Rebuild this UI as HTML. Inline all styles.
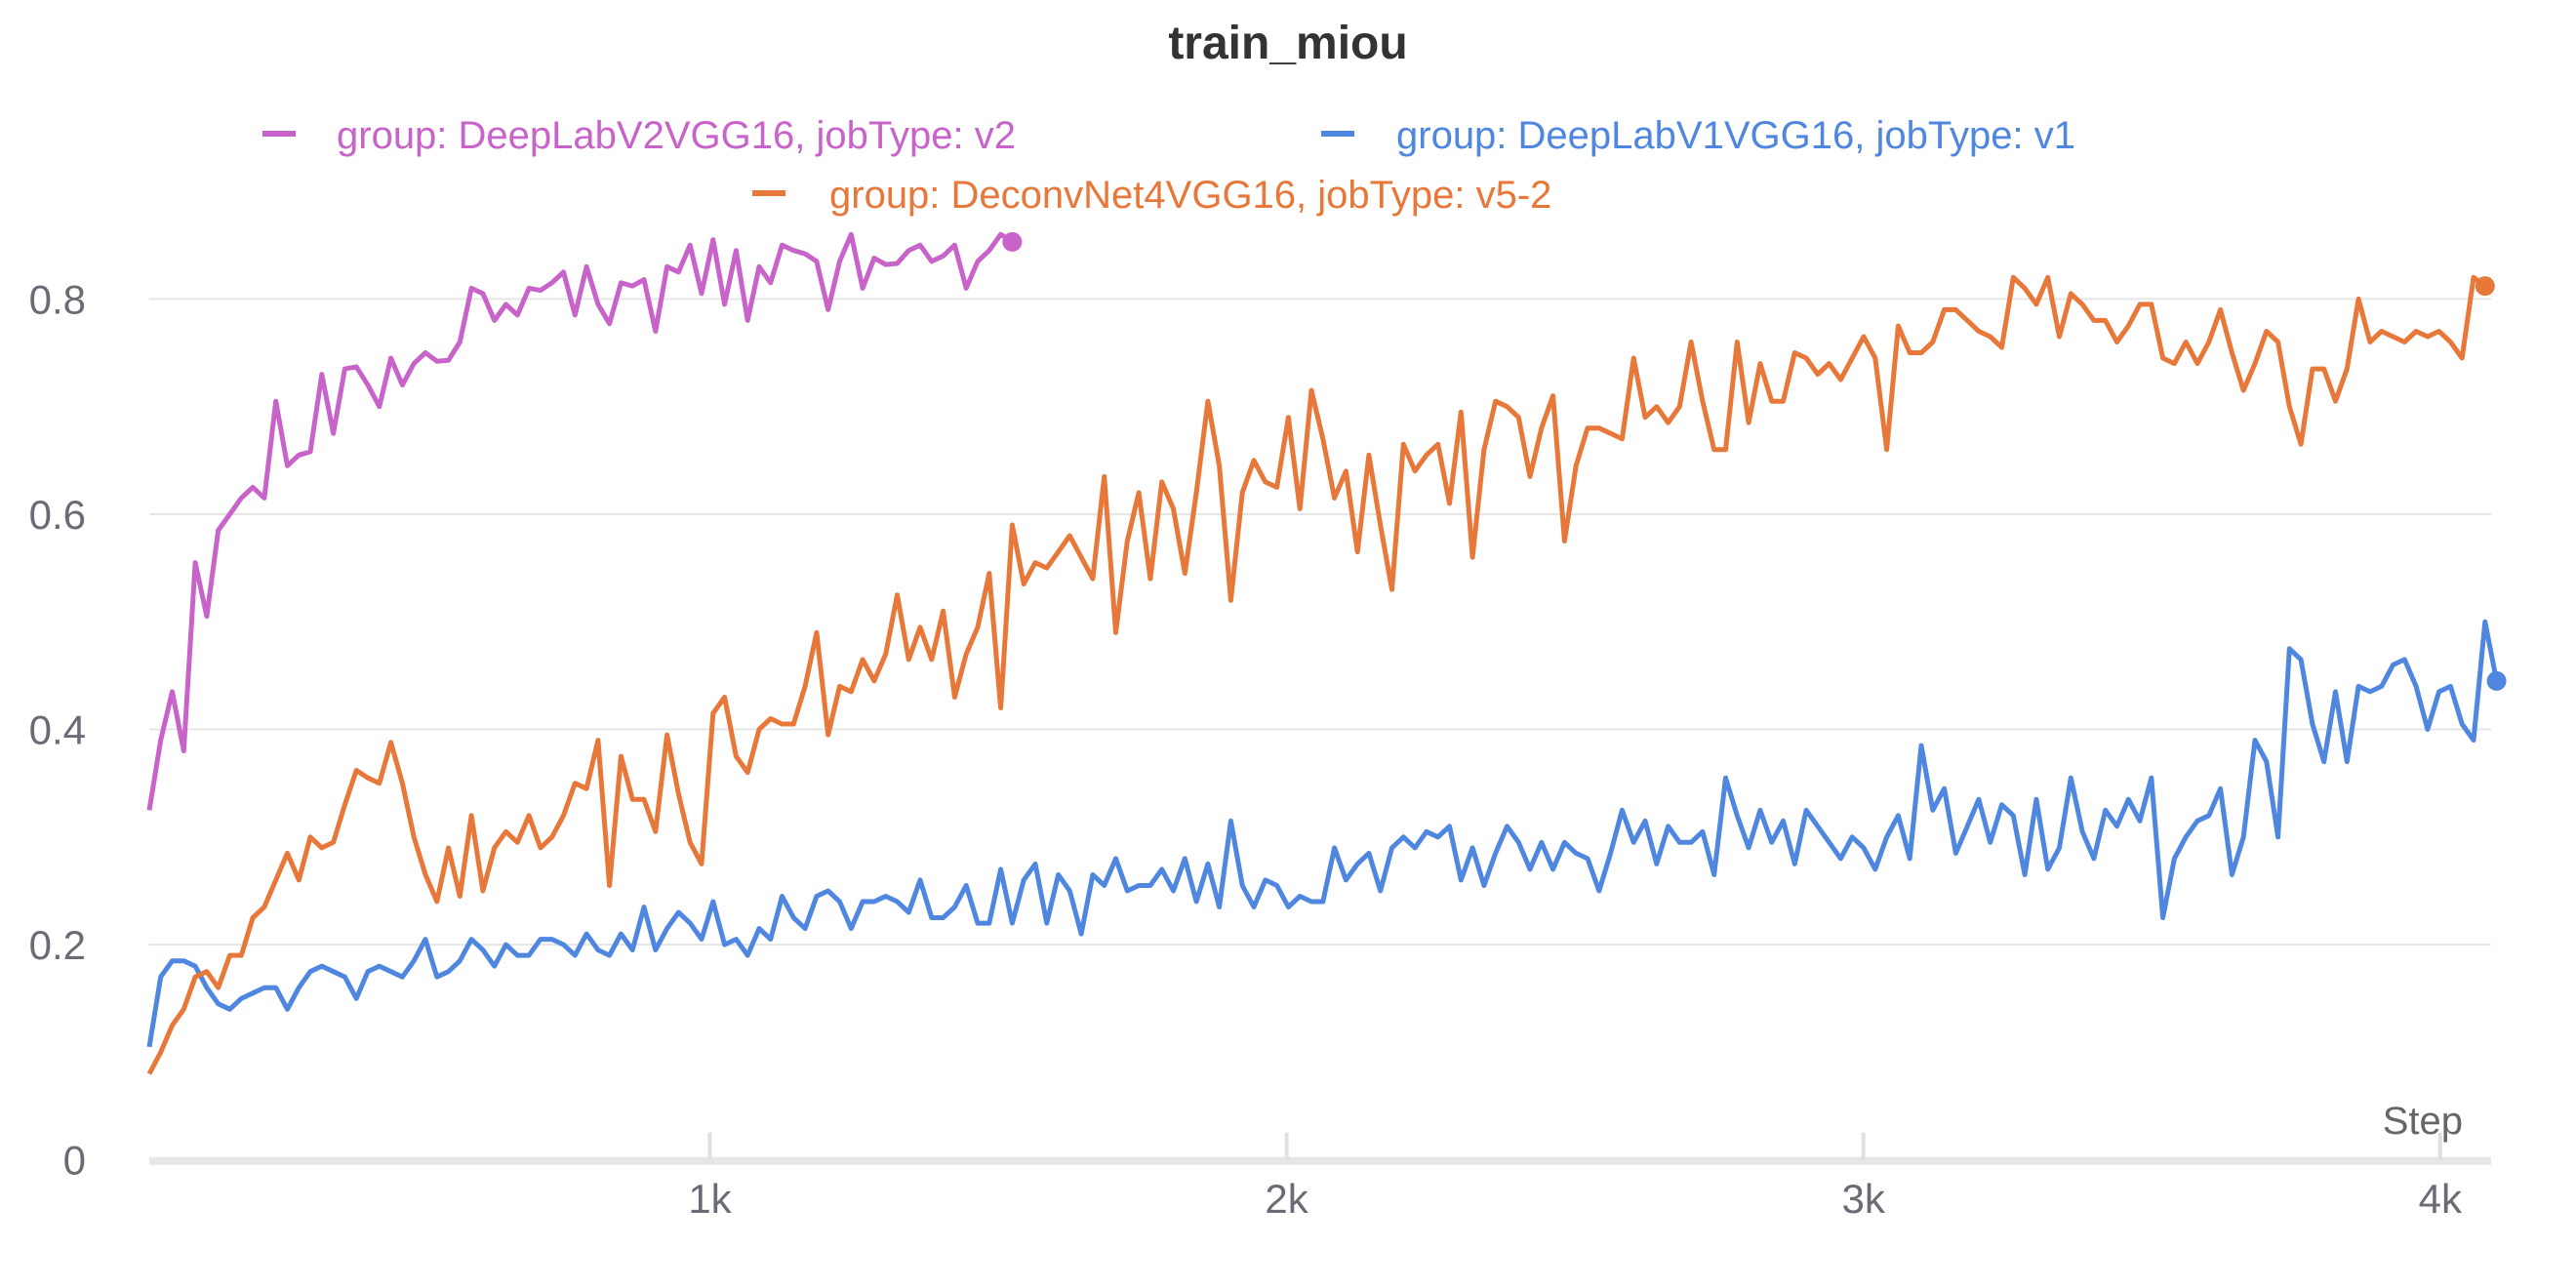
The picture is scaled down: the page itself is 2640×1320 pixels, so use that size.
<!DOCTYPE html>
<html><head><meta charset="utf-8"><style>
html,body{margin:0;padding:0;background:#fff}
svg{display:block;font-family:"Liberation Sans","DejaVu Sans",sans-serif}
</style></head><body>
<svg id="chart" width="2640" height="1320" viewBox="0 0 2640 1320" xmlns="http://www.w3.org/2000/svg">
<text x="1320" y="60" text-anchor="middle" font-size="48" font-weight="bold" fill="#333">train_miou</text>
<g font-size="40">
<g><rect x="269" y="134" width="34" height="6" fill="#c763c9"/><text x="345" y="152" fill="#c763c9">group: DeepLabV2VGG16, jobType: v2</text></g>
<g><rect x="1354" y="134" width="34" height="6" fill="#4e86e0"/><text x="1431" y="152" fill="#4e86e0">group: DeepLabV1VGG16, jobType: v1</text></g>
<g><rect x="771" y="195" width="34" height="6" fill="#e8773a"/><text x="850" y="213" fill="#e8773a">group: DeconvNet4VGG16, jobType: v5-2</text></g>
</g>
<g id="grid"></g>
<g id="series"></g>
<text x="2524" y="1162" text-anchor="end" font-size="40" fill="#666">Step</text>
</svg>
<script>
const yTicks=[0,0.2,0.4,0.6,0.8];
const yTickLabels=["0","0.2","0.4","0.6","0.8"];
const xTicks=[1000,2000,3000,4000];
const xTickLabels=["1k","2k","3k","4k"];
const stepStart=28, stepInterval=19.95;
const purpleVals=[.325,.39,.435,.38,.555,.505,.585,.60,.615,.625,.615,.705,.645,.655,.658,.73,.675,.735,.737,.72,.70,.745,.72,.74,.75,.742,.743,.76,.81,.805,.78,.795,.785,.81,.808,.815,.825,.785,.83,.795,.777,.815,.812,.818,.77,.83,.825,.85,.805,.855,.795,.845,.78,.83,.815,.85,.845,.842,.835,.79,.835,.86,.81,.838,.832,.833,.845,.85,.835,.84,.85,.81,.835,.845,.86,.853];
const orangeVals=[.08,.10,.125,.14,.17,.175,.16,.19,.19,.225,.235,.26,.285,.26,.30,.29,.295,.33,.362,.355,.35,.388,.35,.30,.265,.24,.29,.245,.32,.25,.29,.305,.295,.32,.29,.30,.32,.35,.345,.39,.255,.375,.335,.335,.305,.395,.34,.295,.275,.415,.43,.375,.36,.40,.41,.405,.405,.44,.49,.395,.44,.435,.465,.445,.47,.525,.465,.495,.465,.51,.43,.47,.495,.545,.42,.59,.535,.555,.55,.565,.58,.56,.54,.635,.49,.575,.62,.54,.63,.605,.545,.62,.705,.645,.52,.62,.65,.63,.625,.69,.605,.715,.67,.615,.64,.565,.655,.59,.53,.665,.64,.655,.665,.61,.695,.56,.66,.705,.70,.69,.635,.68,.71,.575,.645,.68,.68,.675,.67,.745,.69,.70,.685,.70,.76,.705,.66,.66,.76,.685,.74,.705,.705,.75,.745,.73,.74,.725,.745,.765,.745,.66,.775,.75,.75,.76,.79,.79,.78,.77,.765,.755,.82,.81,.795,.82,.765,.805,.795,.78,.78,.76,.775,.795,.795,.745,.74,.76,.74,.76,.79,.75,.715,.74,.77,.76,.70,.665,.735,.735,.705,.735,.80,.76,.77,.765,.76,.77,.765,.77,.76,.745,.82,.812];
const blueVals=[.105,.17,.185,.185,.18,.16,.145,.14,.15,.155,.16,.16,.14,.16,.175,.18,.175,.17,.15,.175,.18,.175,.17,.185,.205,.17,.175,.185,.205,.195,.18,.20,.19,.19,.205,.205,.2,.19,.21,.195,.19,.21,.195,.235,.195,.215,.23,.22,.205,.24,.2,.205,.19,.215,.205,.245,.225,.215,.245,.25,.24,.215,.24,.24,.245,.24,.23,.26,.225,.225,.235,.255,.22,.22,.27,.22,.26,.275,.22,.265,.25,.21,.265,.255,.28,.25,.255,.255,.27,.25,.28,.24,.275,.235,.315,.255,.235,.26,.255,.235,.245,.24,.24,.29,.26,.275,.285,.25,.29,.3,.29,.305,.30,.31,.26,.29,.255,.285,.31,.295,.27,.295,.27,.295,.285,.28,.25,.285,.325,.295,.315,.275,.31,.295,.295,.305,.265,.355,.32,.29,.325,.295,.315,.275,.325,.31,.295,.28,.30,.29,.27,.30,.32,.28,.385,.325,.345,.285,.31,.335,.295,.33,.32,.265,.335,.27,.29,.355,.305,.28,.325,.31,.335,.315,.355,.225,.28,.30,.315,.32,.345,.265,.30,.39,.37,.30,.475,.465,.405,.37,.435,.37,.44,.435,.44,.46,.465,.44,.40,.435,.44,.405,.39,.50,.445];
const NS='http://www.w3.org/2000/svg';
const X0=153, X1=2553;
function xPx(step){return 136.4+step*0.5911;}
function yPx(v){return 1188.7-v*1102.9;}
const grid=document.getElementById('grid');
yTicks.forEach((t,i)=>{
  if(t>0){const l=document.createElementNS(NS,'line');
  
  
  l.setAttribute('x1',X0);l.setAttribute('x2',X1);l.setAttribute('y1',yPx(t));l.setAttribute('y2',yPx(t));
  l.setAttribute('stroke','#e6e6e6');l.setAttribute('stroke-width','2');grid.appendChild(l);}
  const tx=document.createElementNS(NS,'text');
  
  
  tx.setAttribute('x',88);tx.setAttribute('y',yPx(t)+15);tx.setAttribute('text-anchor','end');
  tx.setAttribute('font-size','42');tx.setAttribute('fill','#6b6b75');tx.textContent=yTickLabels[i];grid.appendChild(tx);
});
const ax=document.createElementNS(NS,'rect');


ax.setAttribute('x',X0);ax.setAttribute('y',yPx(0)-3);ax.setAttribute('width',X1-X0);ax.setAttribute('height',8);ax.setAttribute('fill','#e6e6e6');grid.appendChild(ax);
xTicks.forEach((t,i)=>{
  const l=document.createElementNS(NS,'line');
  
  
  l.setAttribute('x1',xPx(t));l.setAttribute('x2',xPx(t));l.setAttribute('y1',yPx(0)-28);l.setAttribute('y2',yPx(0));
  l.setAttribute('stroke','#e0e0e0');l.setAttribute('stroke-width','4');grid.appendChild(l);
  const tx=document.createElementNS(NS,'text');
  
  
  tx.setAttribute('x',xPx(t));tx.setAttribute('y',1243);tx.setAttribute('text-anchor','middle');
  tx.setAttribute('font-size','42');tx.setAttribute('fill','#6b6b75');tx.textContent=xTickLabels[i];grid.appendChild(tx);
});
const ser=document.getElementById('series');
function draw(vals,color,name){
  const pts=vals.map((v,i)=>xPx(stepStart+i*stepInterval).toFixed(1)+','+yPx(v).toFixed(1));
  const p=document.createElementNS(NS,'polyline');
  
  
  p.setAttribute('points',pts.join(' '));p.setAttribute('fill','none');p.setAttribute('stroke',color);
  p.setAttribute('stroke-width','5');p.setAttribute('stroke-linejoin','round');ser.appendChild(p);
  const n=vals.length-1;
  const c=document.createElementNS(NS,'circle');
  
  
  c.setAttribute('cx',xPx(stepStart+n*stepInterval));c.setAttribute('cy',yPx(vals[n]));c.setAttribute('r','10');c.setAttribute('fill',color);ser.appendChild(c);
}
draw(blueVals,'#4e86e0','deeplabv1');
draw(orangeVals,'#e8773a','deconvnet4');
draw(purpleVals,'#c763c9','deeplabv2');
</script>
</body></html>
